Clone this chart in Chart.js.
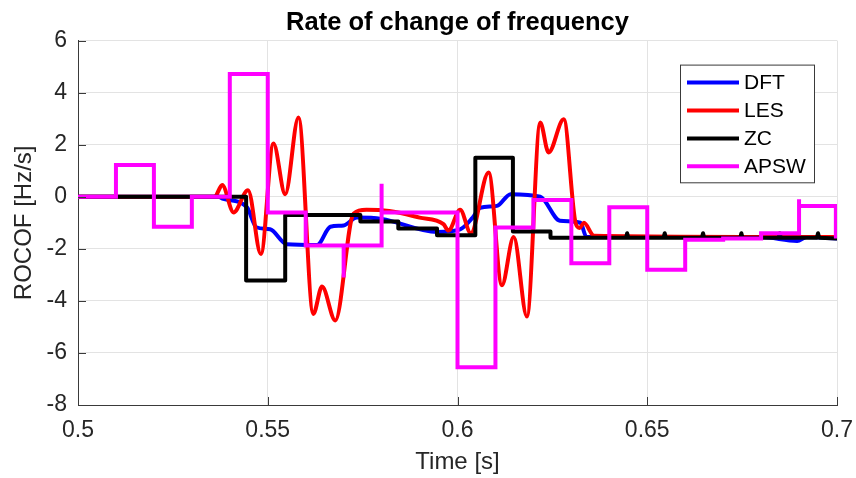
<!DOCTYPE html>
<html>
<head>
<meta charset="utf-8">
<script src="https://cdn.jsdelivr.net/npm/chart.js@4.4.1/dist/chart.umd.min.js"></script>
<style>
  html, body { margin: 0; padding: 0; background: #fff; }
  canvas { display: block; }
</style>
</head>
<body>
<canvas id="rocof" width="856" height="478"></canvas>
<script>
// ---- data ----
const xTicks = [0.5, 0.55, 0.6, 0.65, 0.7];
const xTickLabels = ['0.5', '0.55', '0.6', '0.65', '0.7'];
const yTicks = [-8, -6, -4, -2, 0, 2, 4, 6];
const yTickLabels = ['-8', '-6', '-4', '-2', '0', '2', '4', '6'];

const seriesNames = ['DFT', 'LES', 'ZC', 'APSW'];
const seriesColors = ['#0000ff', '#ff0000', '#000000', '#ff00ff'];

const dftTime = [0.5, 0.537, 0.5383, 0.5445, 0.547, 0.5506, 0.555, 0.563, 0.5665, 0.570, 0.5735, 0.58,
  0.5946, 0.6007, 0.604, 0.606, 0.6104, 0.614, 0.6218, 0.627, 0.6324, 0.634, 0.68, 0.6895, 0.692, 0.7];
const dftRocof = [0, 0, -0.08, -0.4, -1.17, -1.25, -1.82, -1.85, -1.15, -1.1, -0.8, -0.85,
  -1.35, -1.25, -0.8, -0.42, -0.35, 0.1, 0.0, -0.92, -1.0, -1.55, -1.55, -1.7, -1.55, -1.6];

const lesTime = [0.5, 0.536, 0.538, 0.541, 0.5448, 0.5482, 0.5515, 0.5546, 0.5581, 0.562, 0.5643, 0.5678,
  0.5726, 0.576, 0.582, 0.59, 0.5963, 0.5976, 0.6007, 0.6035, 0.6082, 0.6117, 0.6148, 0.6183, 0.6218,
  0.624, 0.628, 0.6311, 0.6322, 0.6333, 0.636, 0.7];
const lesRocof = [0, 0, 0.45, -0.6, 0.25, -2.2, 2.05, 0.1, 3.05, -4.5, -3.45, -4.75,
  -0.65, -0.5, -0.55, -0.8, -1.05, -1.3, -0.5, -1.4, 0.93, -3.4, -1.55, -4.6, 2.85,
  1.7, 2.98, -1.0, -1.2, -1.0, -1.5, -1.55];

const zcTime = [0.5, 0.5443, 0.5443, 0.5546, 0.5546, 0.5744, 0.5744, 0.5844, 0.5844, 0.5946, 0.5946,
  0.6047, 0.6047, 0.6146, 0.6146, 0.6245, 0.6245,
  0.6444, 0.6447, 0.645, 0.6543, 0.6546, 0.6549, 0.6644, 0.6647, 0.665,
  0.6745, 0.6748, 0.6751, 0.6846, 0.6849, 0.6852, 0.6947, 0.695, 0.6953, 0.7];
const zcRocof = [0, 0, -3.22, -3.22, -0.7, -0.7, -0.95, -0.95, -1.22, -1.22, -1.48,
  -1.48, 1.5, 1.5, -1.33, -1.33, -1.57,
  -1.57, -1.4, -1.57, -1.57, -1.4, -1.57, -1.57, -1.4, -1.57,
  -1.57, -1.4, -1.57, -1.57, -1.4, -1.57, -1.57, -1.4, -1.57, -1.6];

const apswTime = [0.5, 0.51, 0.51, 0.52, 0.52, 0.53, 0.53, 0.54, 0.54, 0.55, 0.55, 0.56, 0.56,
  0.57, 0.57, 0.57, 0.58, 0.58, 0.58, 0.6, 0.6, 0.61, 0.61, 0.62, 0.62, 0.63, 0.63, 0.64, 0.64,
  0.65, 0.65, 0.66, 0.66, 0.67, 0.67, 0.68, 0.68, 0.69, 0.69, 0.69, 0.6997, 0.6997];
const apswRocof = [0, 0, 1.22, 1.22, -1.15, -1.15, 0, 0, 4.72, 4.72, -0.6, -0.6, -1.87,
  -1.87, -3.1, -1.87, -1.87, 0.5, -0.6, -0.6, -6.55, -6.55, -1.18, -1.18, -0.12, -0.12, -2.55, -2.55, -0.4,
  -0.4, -2.8, -2.8, -1.65, -1.65, -1.6, -1.6, -1.4, -1.4, -0.1, -0.35, -0.35, -1.6];

const toPoints = (ts, vs) => ts.map((t, i) => ({ x: t, y: vs[i] }));

const FONT = "'Liberation Sans', Arial, Helvetica, sans-serif";

// center the title over the axes, not the whole canvas
const titleOverAxes = {
  id: 'titleOverAxes',
  afterLayout(chart) {
    const tb = chart.titleBlock;
    if (tb) {
      tb.left = chart.chartArea.left;
      tb.right = chart.chartArea.right;
    }
  }
};

// legend box sitting inside the axes, top right
const insideLegend = {
  id: 'insideLegend',
  afterDatasetsDraw(chart) {
    const { ctx, chartArea } = chart;
    const sets = chart.data.datasets;
    const boxW = 134, rowH = 27.9;
    const boxH = 18 + rowH * (sets.length - 1) + 16;
    const x0 = chartArea.right - 23 - boxW;
    const y0 = chartArea.top + 24;
    ctx.save();
    ctx.fillStyle = '#fff';
    ctx.fillRect(x0, y0, boxW, boxH);
    ctx.strokeStyle = '#3a3a3a';
    ctx.lineWidth = 1;
    ctx.strokeRect(x0 + 0.5, y0 + 0.5, boxW, boxH);
    ctx.font = '21px ' + FONT;
    ctx.textBaseline = 'middle';
    ctx.textAlign = 'left';
    sets.forEach((ds, i) => {
      const y = y0 + 18 + i * rowH;
      ctx.strokeStyle = ds.borderColor;
      ctx.lineWidth = 4;
      ctx.beginPath();
      ctx.moveTo(x0 + 7, y);
      ctx.lineTo(x0 + 59, y);
      ctx.stroke();
      ctx.fillStyle = '#000';
      ctx.fillText(ds.label, x0 + 64, y + 1);
    });
    ctx.restore();
  }
};

// MATLAB style inward tick marks
const inwardTicks = {
  id: 'inwardTicks',
  afterDraw(chart) {
    const { ctx, chartArea, scales } = chart;
    ctx.save();
    ctx.strokeStyle = '#3a3a3a';
    ctx.lineWidth = 1;
    ctx.beginPath();
    xTicks.forEach(v => {
      const px = Math.round(scales.x.getPixelForValue(v)) + 0.5;
      ctx.moveTo(px, chartArea.bottom);
      ctx.lineTo(px, chartArea.bottom - 8);
    });
    yTicks.forEach(v => {
      const py = Math.round(scales.y.getPixelForValue(v)) + 0.5;
      ctx.moveTo(chartArea.left, py);
      ctx.lineTo(chartArea.left + 8, py);
    });
    ctx.stroke();
    ctx.restore();
  }
};

const allTimes = [dftTime, lesTime, zcTime, apswTime];
const allValues = [dftRocof, lesRocof, zcRocof, apswRocof];

const datasets = seriesNames.map((name, i) => ({
  label: name,
  data: toPoints(allTimes[i], allValues[i]),
  borderColor: seriesColors[i],
  backgroundColor: seriesColors[i],
  borderWidth: 4,
  pointRadius: 0,
  fill: false,
  order: seriesNames.length - 1 - i,
  cubicInterpolationMode: (name === 'DFT' || name === 'LES') ? 'monotone' : 'default',
  tension: 0,
  borderJoinStyle: name === 'ZC' ? 'round' : 'miter'
}));

const ctx = document.getElementById('rocof').getContext('2d');
const chart = new Chart(ctx, {
  type: 'line',
  data: { datasets },
  options: {
    responsive: false,
    animation: false,
    layout: { padding: { left: 0, right: 19, top: 0, bottom: 0 } },
    scales: {
      x: {
        type: 'linear',
        min: 0.5,
        max: 0.7,
        afterBuildTicks: scale => { scale.ticks = xTicks.map(v => ({ value: v })); },
        afterFit: scale => {
          scale.height = 73;
          scale.paddingLeft = 0;
          scale.paddingRight = 0;
        },
        ticks: {
          padding: 12,
          maxRotation: 0,
          color: '#262626',
          font: { family: FONT, size: 23 },
          callback: (v, i) => xTickLabels[i]
        },
        grid: { color: '#e3e3e3', drawTicks: false },
        border: { display: true, color: '#3a3a3a', width: 1 },
        title: {
          display: true,
          text: 'Time [s]',
          color: '#262626',
          font: { family: FONT, size: 24 },
          padding: { top: 0, bottom: 1 }
        }
      },
      y: {
        type: 'linear',
        min: -8,
        max: 6,
        afterBuildTicks: scale => { scale.ticks = yTicks.map(v => ({ value: v })); },
        afterFit: scale => { scale.width = 78; },
        ticks: {
          padding: 11,
          color: '#262626',
          font: { family: FONT, size: 23 },
          callback: (v, i) => yTickLabels[i]
        },
        grid: { color: '#e3e3e3', drawTicks: false },
        border: { display: true, color: '#3a3a3a', width: 1 },
        title: {
          display: true,
          text: 'ROCOF [Hz/s]',
          color: '#262626',
          font: { family: FONT, size: 24 },
          padding: { top: 10, bottom: 0 }
        }
      }
    },
    plugins: {
      legend: { display: false },
      tooltip: { enabled: false },
      title: {
        display: true,
        text: 'Rate of change of frequency',
        color: '#000',
        font: { family: FONT, size: 25.5, weight: 'bold' },
        padding: { top: 8, bottom: 2 }
      }
    }
  },
  plugins: [titleOverAxes, insideLegend, inwardTicks]
});

chart.update();
</script>
</body>
</html>
